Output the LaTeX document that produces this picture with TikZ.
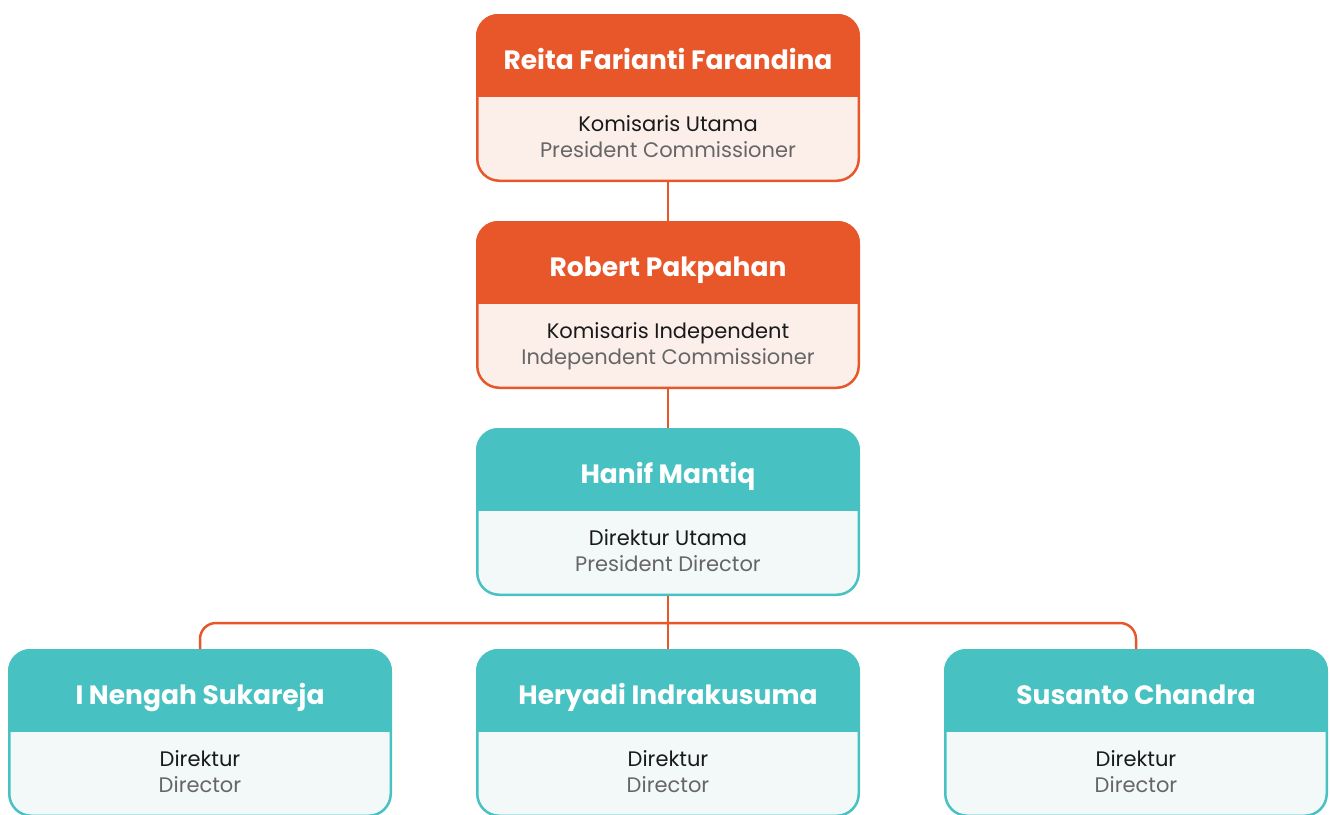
\documentclass[tikz,border=0pt]{standalone}
\usepackage{fontspec}
\setmainfont{Poppins}
\usetikzlibrary{positioning}

\definecolor{boardorange}{HTML}{E8572A}
\definecolor{boardlight}{HTML}{FCEFEA}
\definecolor{directeal}{HTML}{47C1C1}
\definecolor{direclight}{HTML}{F3F8F8}
\definecolor{roleblack}{HTML}{1A1A1A}
\definecolor{rolegrey}{HTML}{666666}

\tikzset{
  orgbox/.style={draw, line width=2.5pt, rounded corners=22pt,
    minimum width=381.5pt, minimum height=165.5pt, inner sep=0pt},
  boxtitle/.style={anchor=base, text=white, font=\fontsize{26.5}{30}\selectfont\bfseries},
  boxrole/.style={anchor=base, text=roleblack, font=\fontsize{21}{25}\selectfont},
  boxroleen/.style={boxrole, text=rolegrey},
  link/.style={draw=boardorange, line width=2.5pt}
}

% #1 node name, #2 position, #3 colour, #4 light fill, #5 name, #6 role, #7 role (en)
\newcommand\orgbox[7]{%
  \node[orgbox, draw=#3, fill=#4] (#1) at (#2) {};
  \begin{scope}
    \clip[rounded corners=22pt] (#1.south west) rectangle (#1.north east);
    \fill[#3] (#1.north west) rectangle ([yshift=-83pt]#1.north east);
  \end{scope}
  \node[boxtitle] (#1-name) at ([yshift=-55pt]#1.north) {#5};
  \node[boxrole] (#1-role) at ([yshift=-117.5pt]#1.north) {#6};
  \node[boxroleen] (#1-roleen) at ([yshift=-143pt]#1.north) {#7};
}

\begin{document}
\begin{tikzpicture}[x=1pt,y=-1pt]
  \useasboundingbox (0,0) rectangle (1330,814);

  \orgbox{reita}{668,98}{boardorange}{boardlight}{Reita Farianti Farandina}{Komisaris Utama}{President Commissioner}
  \orgbox{robert}{668,305}{boardorange}{boardlight}{Robert Pakpahan}{Komisaris Independent}{Independent Commissioner}
  \orgbox{hanif}{668,512}{directeal}{direclight}{Hanif Mantiq}{Direktur Utama}{President Director}
  \orgbox{sukareja}{200,733}{directeal}{direclight}{I Nengah Sukareja}{Direktur}{Director}
  \orgbox{heryadi}{668,733}{directeal}{direclight}{Heryadi Indrakusuma}{Direktur}{Director}
  \orgbox{susanto}{1136,733}{directeal}{direclight}{Susanto Chandra}{Direktur}{Director}

  \coordinate (fork) at (668,623);
  \path[link] (reita) -- (robert);
  \path[link] (robert) -- (hanif);
  \path[link] (hanif) -- (heryadi);
  \path[link, rounded corners=16pt] (sukareja.north) |- (fork) -| (susanto.north);
\end{tikzpicture}
\end{document}
